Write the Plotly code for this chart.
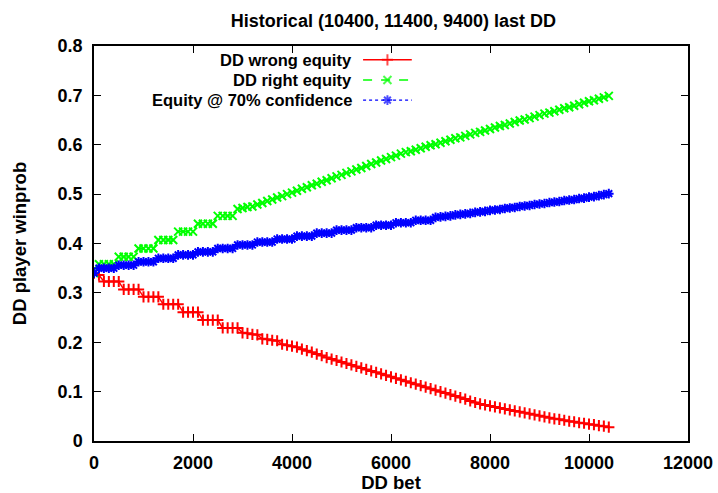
import plotly.graph_objects as go

# DD bet amounts (x axis)
bets = list(range(0, 10500, 100))

# Win probability when the DD answer is wrong
wrong_equity = [
    0.340, 0.336,
    0.323, 0.323, 0.323, 0.323,
    0.307, 0.307, 0.307, 0.307,
    0.292, 0.292, 0.292, 0.292,
    0.277, 0.277, 0.277, 0.277,
    0.261, 0.261, 0.261, 0.261,
    0.245, 0.245, 0.245, 0.245,
    0.229, 0.229, 0.229, 0.229,
    0.219, 0.218, 0.216, 0.215,
    0.207, 0.206, 0.204, 0.203,
    0.196, 0.194, 0.192, 0.190,
    0.186, 0.183, 0.180, 0.176, 0.173, 0.169, 0.166, 0.163, 0.160, 0.157,
    0.154, 0.151, 0.148, 0.145, 0.142, 0.139, 0.136, 0.133, 0.130, 0.127,
    0.124, 0.121, 0.118, 0.115, 0.112, 0.109, 0.106, 0.103, 0.100, 0.097,
    0.094, 0.091, 0.088, 0.085, 0.081, 0.078, 0.075, 0.073, 0.071, 0.069,
    0.067, 0.065, 0.063, 0.061, 0.059, 0.057, 0.055, 0.053, 0.051, 0.049,
    0.047, 0.045, 0.044, 0.042, 0.040, 0.039, 0.037, 0.036, 0.034, 0.033,
    0.031, 0.030, 0.028,
]

# Win probability when the DD answer is right
right_equity = [
    0.340,
    0.358, 0.358, 0.358, 0.358,
    0.373, 0.373, 0.373, 0.373,
    0.390, 0.390, 0.390, 0.390,
    0.407, 0.407, 0.407, 0.407,
    0.424, 0.424, 0.424, 0.424,
    0.440, 0.440, 0.440, 0.440,
    0.456, 0.456, 0.456, 0.456,
    0.470, 0.472, 0.474, 0.475,
    0.479, 0.482, 0.486, 0.489, 0.493, 0.496, 0.500, 0.503, 0.507, 0.511,
    0.514, 0.518, 0.521, 0.525, 0.528, 0.532, 0.536, 0.539, 0.543, 0.546,
    0.550, 0.553, 0.557, 0.561, 0.564, 0.568, 0.571, 0.575, 0.578, 0.582,
    0.585, 0.587, 0.590, 0.593, 0.596, 0.599, 0.601, 0.604, 0.607, 0.610,
    0.613, 0.615, 0.618, 0.621, 0.624, 0.626, 0.629, 0.632, 0.635, 0.638,
    0.640, 0.643, 0.646, 0.649, 0.651, 0.654, 0.657, 0.660, 0.663, 0.665,
    0.668, 0.671, 0.674, 0.676, 0.679, 0.682, 0.685, 0.688, 0.690, 0.693,
    0.696, 0.699,
]

# Expected win probability at 70% answer confidence
conf70_equity = [
    0.340,
    0.350, 0.350, 0.350, 0.350,
    0.356, 0.356, 0.356, 0.356,
    0.363, 0.363, 0.363, 0.363,
    0.370, 0.370, 0.370, 0.370,
    0.377, 0.377, 0.377, 0.377,
    0.383, 0.383, 0.383, 0.383,
    0.390, 0.390, 0.390, 0.390,
    0.397, 0.397, 0.397, 0.397,
    0.403, 0.403, 0.403, 0.403,
    0.409, 0.409, 0.409, 0.409,
    0.415, 0.415, 0.415, 0.415,
    0.421, 0.421, 0.421, 0.421,
    0.427, 0.427, 0.427, 0.427,
    0.432, 0.432, 0.432, 0.432,
    0.437, 0.437, 0.437, 0.437,
    0.442, 0.442, 0.442, 0.442,
    0.447, 0.447, 0.447, 0.447,
    0.453, 0.454, 0.455, 0.456, 0.458, 0.459, 0.460, 0.461, 0.463, 0.464,
    0.465, 0.467, 0.468, 0.469, 0.471, 0.472, 0.473, 0.475, 0.476, 0.477,
    0.479, 0.480, 0.481, 0.483, 0.484, 0.485, 0.487, 0.488, 0.489, 0.491,
    0.492, 0.494, 0.495, 0.497, 0.499, 0.501,
]

series_names = ["DD wrong equity", "DD right equity", "Equity @ 70% confidence"]
x_ticks = [0, 2000, 4000, 6000, 8000, 10000, 12000]
x_tick_labels = ["0", "2000", "4000", "6000", "8000", "10000", "12000"]
y_ticks = [0, 0.1, 0.2, 0.3, 0.4, 0.5, 0.6, 0.7, 0.8]
y_tick_labels = ["0", "0.1", "0.2", "0.3", "0.4", "0.5", "0.6", "0.7", "0.8"]

FONT = "Liberation Sans, Arial, sans-serif"
FS = 18
styles = [
    dict(color="#ff0000", dash="solid", symbol="cross-thin-open"),
    dict(color="#00ff00", dash="dash", symbol="x-thin-open"),
    dict(color="#0000ff", dash="dot", symbol="asterisk-open"),
]
data = [wrong_equity, right_equity, conf70_equity]

fig = go.Figure()
for name, ys, st in zip(series_names, data, styles):
    fig.add_trace(go.Scatter(
        x=bets, y=ys, mode="lines+markers", name=name, showlegend=False,
        line=dict(color=st["color"], width=1.4, dash=st["dash"]),
        marker=dict(symbol=st["symbol"], size=8,
                    line=dict(color=st["color"], width=2)),
    ))

# Gnuplot-style key: right-aligned labels with a sample line to their right
key_rows = [0.965, 0.914, 0.863]
for name, st, ky in zip(series_names, styles, key_rows):
    fig.add_trace(go.Scatter(
        x=[0.453, 0.494, 0.535], y=[ky] * 3,
        xaxis="x2", yaxis="y2", mode="lines+markers", showlegend=False,
        hoverinfo="skip",
        line=dict(color=st["color"], width=1.4, dash=st["dash"]),
        marker=dict(symbol=st["symbol"], size=[0, 8, 0],
                    line=dict(color=st["color"], width=2)),
    ))
    fig.add_annotation(
        xref="x2", yref="y2", x=0.436, y=ky, text="<b>" + name + "</b>",
        showarrow=False, xanchor="right", yanchor="middle", borderpad=0,
        font=dict(family=FONT, size=16.5, color="black"),
    )

axis_common = dict(
    showgrid=False, zeroline=False, showline=True, linecolor="black",
    linewidth=1.5, mirror="ticks", ticks="inside", ticklen=7,
    tickwidth=1.2, tickcolor="black",
    tickfont=dict(family=FONT, size=FS, color="black"),
)
fig.update_layout(
    width=718, height=493,
    margin=dict(l=94, r=30, t=46, b=52, autoexpand=False),
    paper_bgcolor="white", plot_bgcolor="white",
    title=dict(text="<b>Historical (10400, 11400, 9400) last DD</b>",
               x=0.548, xanchor="center", y=0.959, yanchor="middle",
               font=dict(family=FONT, size=FS, color="black")),
    xaxis=dict(range=[0, 12000], tickvals=x_ticks,
               ticktext=["<b>%s</b>" % t for t in x_tick_labels],
               ticklabelstandoff=5,
               title=dict(text="<b>DD bet</b>", standoff=7,
                          font=dict(family=FONT, size=18.5, color="black")),
               **axis_common),
    yaxis=dict(range=[0, 0.8], tickvals=y_ticks,
               ticktext=["<b>%s</b>" % t for t in y_tick_labels],
               ticklabelstandoff=6,
               title=dict(text="<b>DD player winprob</b>", standoff=26,
                          font=dict(family=FONT, size=18.5, color="black")),
               **axis_common),
    xaxis2=dict(range=[0, 1], overlaying="x", visible=False, fixedrange=True),
    yaxis2=dict(range=[0, 1], overlaying="y", visible=False, fixedrange=True),
    showlegend=False,
)

fig.write_html("out.html")
